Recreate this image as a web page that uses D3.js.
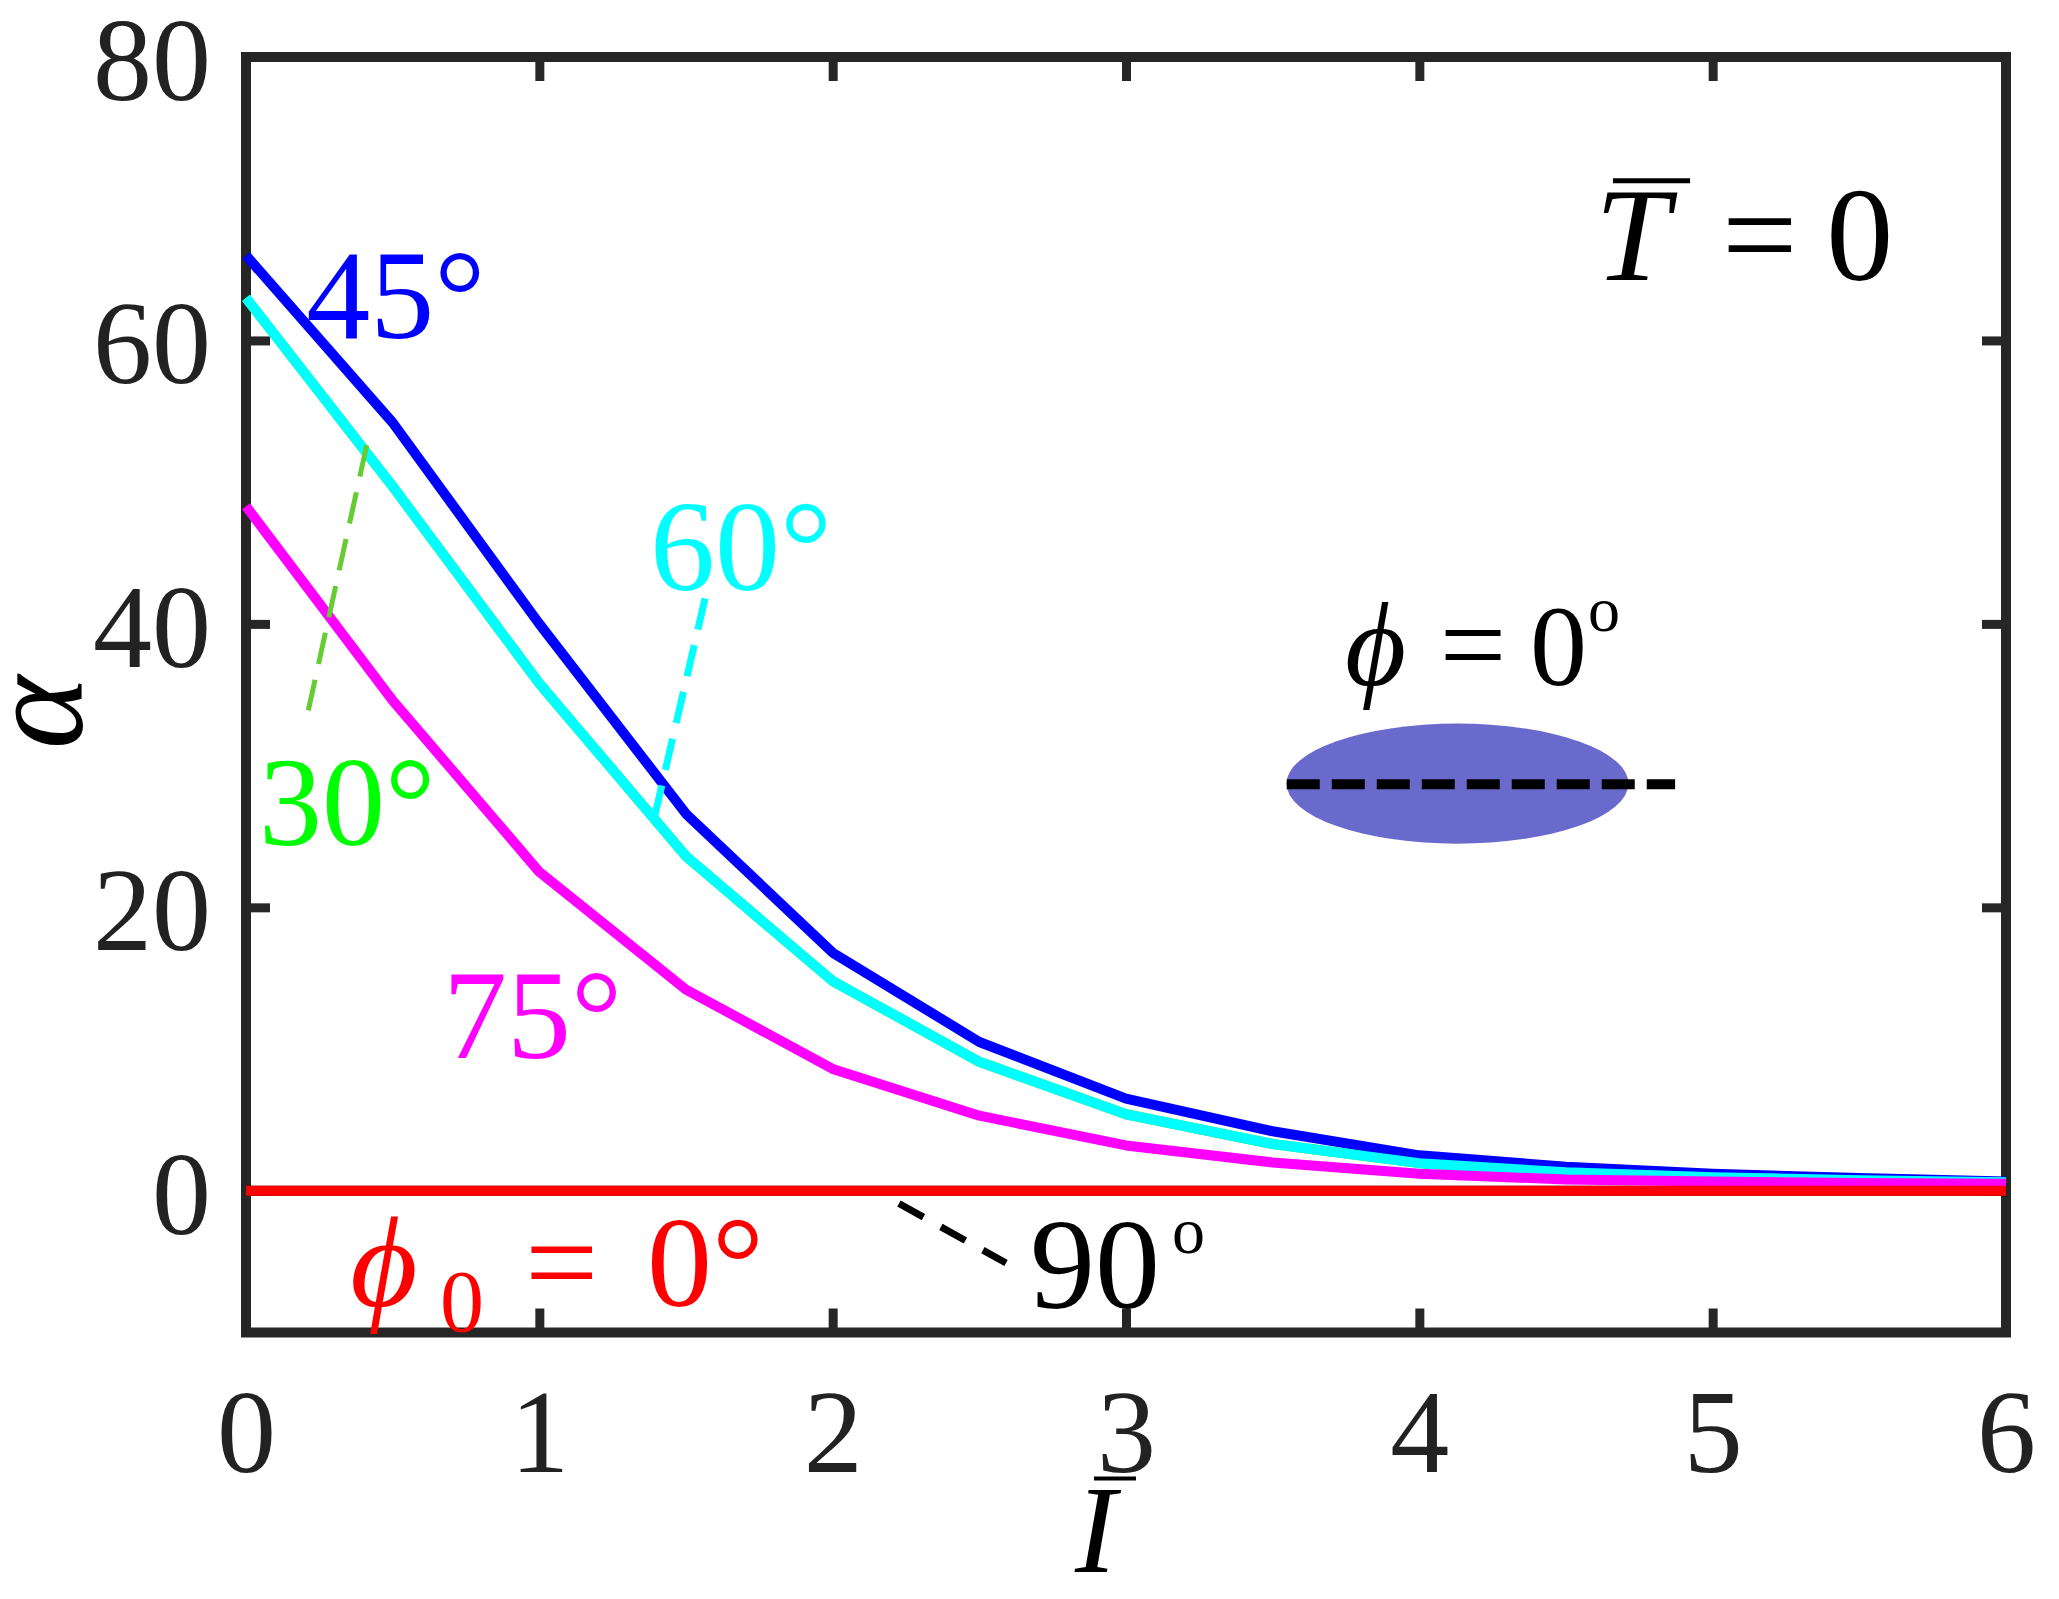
<!DOCTYPE html>
<html><head><meta charset="utf-8">
<script src="https://cdn.jsdelivr.net/npm/d3@7"></script>
<style>
body{margin:0;background:#fff}
text{font-family:"Liberation Serif","Times New Roman","DejaVu Serif",serif}
</style>
</head><body>
<svg id="chart" width="2059" height="1599"></svg>
<script>
// ---- data ----
const iBar = [0, 0.5, 1, 1.5, 2, 2.5, 3, 3.5, 4, 4.5, 5, 5.5, 6];
const alpha0  = [0, 0, 0, 0, 0, 0, 0, 0, 0, 0, 0, 0, 0];
const alpha30 = [63, 49.7, 35.8, 23.6, 14.8, 9.1, 5.4, 3.3, 1.95, 1.3, 0.95, 0.75, 0.6];
const alpha45 = [66, 54.2, 40.0, 26.6, 16.8, 10.5, 6.5, 4.2, 2.5, 1.7, 1.2, 0.9, 0.65];
const alpha60 = [63, 49.7, 35.8, 23.6, 14.8, 9.1, 5.4, 3.3, 1.95, 1.3, 0.95, 0.75, 0.6];
const alpha75 = [48.3, 34.6, 22.5, 14.2, 8.6, 5.3, 3.2, 2.0, 1.2, 0.8, 0.65, 0.55, 0.5];
const alpha90 = [0, 0, 0, 0, 0, 0, 0, 0, 0, 0, 0, 0, 0];
const xTicks = [0, 1, 2, 3, 4, 5, 6];
const yTicks = [0, 20, 40, 60, 80];

// ---- setup ----
const svg = d3.select("#chart");
svg.append("rect").attr("width", 2059).attr("height", 1599).attr("fill", "#fff");
const x = d3.scaleLinear().domain([0, 6]).range([246, 2006]);
const y = d3.scaleLinear().domain([-10, 80]).range([1332.5, 57]);
const axisColor = "#262626";
const FONT = '"Liberation Serif","Times New Roman","DejaVu Serif",serif';

// frame
svg.append("rect")
  .attr("x", x(0)).attr("y", y(80))
  .attr("width", x(6) - x(0)).attr("height", y(-10) - y(80))
  .attr("fill", "none").attr("stroke", axisColor).attr("stroke-width", 10);

function styleAxis(g, fs) {
  g.select(".domain").remove();
  g.attr("font-family", FONT).attr("font-size", fs);
  g.selectAll(".tick line").attr("stroke", axisColor).attr("stroke-width", 9);
  g.selectAll(".tick text").attr("fill", "#222");
}
const gB = svg.append("g").attr("transform", `translate(0,${y(-10)})`)
  .call(d3.axisBottom(x).tickValues(xTicks).tickSize(-24).tickPadding(56).tickFormat(d3.format("d")));
styleAxis(gB, 118);
const gT = svg.append("g").attr("transform", `translate(0,${y(80)})`)
  .call(d3.axisTop(x).tickValues(xTicks).tickSize(-24).tickFormat(""));
styleAxis(gT, 118);
const gL = svg.append("g").attr("transform", `translate(${x(0)},0)`)
  .call(d3.axisLeft(y).tickValues(yTicks).tickSize(-24).tickPadding(35).tickFormat(d3.format("d")));
styleAxis(gL, 118);
gL.selectAll(".tick text").attr("dy", "0.36em");
const gR = svg.append("g").attr("transform", `translate(${x(6)},0)`)
  .call(d3.axisRight(y).tickValues(yTicks).tickSize(-24).tickFormat(""));
styleAxis(gR, 118);

// ---- lines ----
const line = d3.line().x((d, i) => x(iBar[i])).y(d => y(d)).curve(d3.curveLinear);
const series = [
  {v: alpha90, c: "#000000"},
  {v: alpha30, c: "#00ff00"},
  {v: alpha45, c: "#0000ff"},
  {v: alpha60, c: "#00ffff"},
  {v: alpha75, c: "#ff00ff"},
  {v: alpha0,  c: "#ff0000"}
];
svg.append("g").selectAll("path").data(series).join("path")
  .attr("d", d => line(d.v))
  .attr("fill", "none").attr("stroke", d => d.c)
  .attr("stroke-width", 10).attr("stroke-linejoin", "round");

// ---- leaders ----
function leader(x1, y1, x2, y2, color, w, dash) {
  svg.append("line").attr("x1", x(x1)).attr("y1", y(y1)).attr("x2", x(x2)).attr("y2", y(y2))
    .attr("stroke", color).attr("stroke-width", w).attr("stroke-dasharray", dash);
}
leader(0.4115, 52.6, 0.2124, 33.9, "#66cc33", 5, "32 16");
leader(1.565, 41.8, 1.394, 26.5, "#00ffff", 7, "32 16");
leader(2.226, -0.9, 2.591, -5.1, "#000000", 7, "28 20");

// ---- ellipse inset ----
svg.append("ellipse").attr("cx", x(4.130)).attr("cy", y(28.73))
  .attr("rx", x(0.583) - x(0)).attr("ry", y(0) - y(4.235))
  .attr("fill", "#6a6acd");
leader(3.548, 28.68, 4.872, 28.68, "#000000", 10, "33 12");

// ---- text ----
function label(t, xv, yv, fs, color, opts = {}) {
  const el = svg.append("text").attr("x", x(xv)).attr("y", y(yv))
    .attr("font-size", fs).attr("fill", color).attr("font-family", FONT)
    .text(t);
  if (opts.italic) el.attr("font-style", "italic");
  if (opts.anchor) el.attr("text-anchor", opts.anchor);
  return el;
}
label("45°", 0.205, 60.2, 128, "#0000ff");
label("60°", 1.377, 42.4, 130, "#00ffff");
label("30°", 0.044, 24.4, 126, "#00ff00");
label("75°", 0.672, 9.4, 128, "#ff00ff");

// phi0 = 0°
label("ϕ", 0.355, -8.1, 130, "#ff0000", {italic: true});
label("0", 0.661, -9.86, 88, "#ff0000");
label("=", 0.951, -8.1, 130, "#ff0000");
label("0°", 1.367, -8.1, 130, "#ff0000");

// 90°
label("90", 2.673, -8.3, 130, "#000000");
label("o", 3.157, -4.4, 66, "#000000");

// phi = 0°
label("ϕ", 3.747, 35.7, 118, "#000000", {italic: true});
label("=", 4.07, 35.7, 118, "#000000");
label("0", 4.377, 35.7, 114, "#000000");
label("o", 4.575, 39.5, 64, "#000000");

// T-bar = 0
label("T", 4.599, 64.25, 134, "#000000", {italic: true});
svg.append("line").attr("x1", x(4.660)).attr("x2", x(4.923)).attr("y1", y(71.27)).attr("y2", y(71.27))
  .attr("stroke", "#000").attr("stroke-width", 5);
label("=", 5.032, 64.25, 134, "#000000");
label("0", 5.387, 64.25, 134, "#000000");

// x label I-bar
label("I", 2.826, -26.9, 124, "#000000", {italic: true});
svg.append("line").attr("x1", x(2.891)).attr("x2", x(3.034)).attr("y1", y(-20.3)).attr("y2", y(-20.3))
  .attr("stroke", "#000").attr("stroke-width", 4);

// y label alpha
svg.append("text").attr("transform", `translate(${x(-0.56)},${y(33.75)}) rotate(-90)`)
  .attr("text-anchor", "middle").attr("font-size", 140).attr("font-style", "italic")
  .attr("font-family", FONT).attr("fill", "#000").text("α");
</script>
</body></html>
